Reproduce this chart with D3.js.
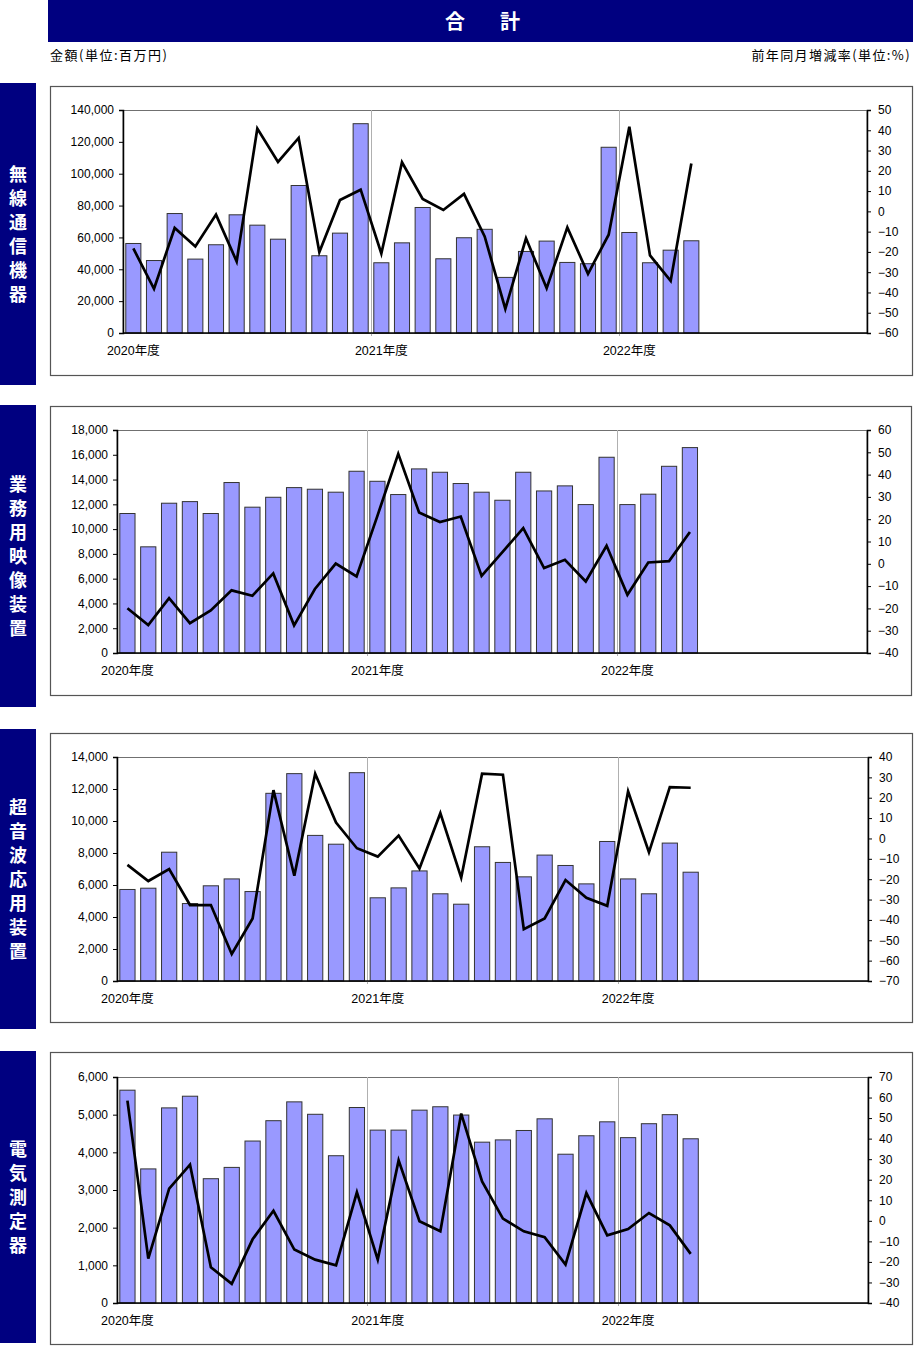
<!DOCTYPE html>
<html><head><meta charset="utf-8">
<script src="https://cdn.jsdelivr.net/npm/d3@7"></script>
<style>
body{margin:0;background:#fff;}
svg{display:block;}
text{font-family:"Liberation Sans","Noto Sans CJK JP",sans-serif;}
</style></head>
<body>
<svg id="c" width="915" height="1347"></svg>
<script>
// ---- categories (fiscal-year months, Apr 2020 – Mar 2023) ----
const categories = [];
for (const fy of [2020, 2021, 2022]) {
  for (const m of [4,5,6,7,8,9,10,11,12,1,2,3]) {
    categories.push((m >= 4 ? fy : fy + 1) + "-" + String(m).padStart(2, "0"));
  }
}
const yearLabels = ["2020年度", "2021年度", "2022年度"];

// ---- 無線通信機器 ----
const musenAmount = [56200,45500,75000,46400,55400,74200,67700,58900,92600,48500,62700,131400,
                     44100,56600,78800,46600,59800,65100,34900,51200,57700,44300,43500,116600,
                     63100,44100,52000,57900];
const musenRate   = [-18.3,-38.2,-8.2,-17.3,-1.6,-24.7,40.9,24.4,36.2,-20.1,5.6,10.7,
                     -20.8,24.2,6.1,0.7,8.6,-12.4,-48.1,-13.3,-37.9,-7.9,-30.8,-11.5,
                     41.7,-21.7,-34.3,23.6];
const musenLeftTicks  = [0,20000,40000,60000,80000,100000,120000,140000];
const musenRightTicks = [-60,-50,-40,-30,-20,-10,0,10,20,30,40,50];

// ---- 業務用映像装置 ----
const eizoAmount = [11260,8570,12090,12220,11260,13760,11770,12570,13350,13220,12980,14670,
                    13860,12790,14860,14590,13680,12980,12330,14590,13080,13490,11980,15800,
                    11980,12820,15070,16580];
const eizoRate   = [-19.9,-27.5,-15.4,-26.6,-20.9,-11.9,-14.3,-4.3,-27.6,-11.3,0.1,-5.7,
                    21.5,49.3,23.0,18.7,21.2,-5.4,5.2,16.0,-1.9,1.8,-7.9,8.1,
                    -13.9,0.6,1.2,14.3];
const eizoLeftTicks  = [0,2000,4000,6000,8000,10000,12000,14000,16000,18000];
const eizoRightTicks = [-40,-30,-20,-10,0,10,20,30,40,50,60];

// ---- 超音波応用装置 ----
const onpaAmount = [5720,5800,8050,4840,5950,6380,5590,11730,12960,9100,8550,13020,
                    5200,5820,6880,5450,4800,8390,7410,6510,7870,7220,6070,8720,
                    6380,5450,8620,6800];
const onpaRate   = [-13.0,-20.9,-15.0,-32.7,-32.7,-56.7,-39.3,23.7,-18.3,31.8,7.8,-4.8,
                    -8.9,1.4,-14.7,12.4,-19.3,31.8,31.3,-44.6,-39.3,-20.4,-29.1,-33.1,
                    23.1,-6.8,25.2,24.9];
const onpaLeftTicks  = [0,2000,4000,6000,8000,10000,12000,14000];
const onpaRightTicks = [-70,-60,-50,-40,-30,-20,-10,0,10,20,30,40];

// ---- 電気測定器 ----
const denkiAmount = [5650,3560,5180,5490,3300,3600,4300,4840,5340,5010,3910,5190,
                     4590,4590,5120,5210,4990,4270,4330,4580,4890,3950,4440,4810,
                     4390,4760,5000,4360];
const denkiRate   = [58.5,-18.4,15.7,27.3,-22.6,-30.7,-9.0,4.9,-14.0,-18.9,-21.7,13.9,
                     -18.9,29.4,-0.2,-5.1,52.2,19.2,1.1,-5.1,-8.0,-21.3,13.5,-7.1,
                     -4.0,3.8,-2.2,-16.1];
const denkiLeftTicks  = [0,1000,2000,3000,4000,5000,6000];
const denkiRightTicks = [-40,-30,-20,-10,0,10,20,30,40,50,60,70];

const panels = [
  {name:"無線通信機器", amount:musenAmount, rate:musenRate, lt:musenLeftTicks, rt:musenRightTicks,
   side:[83,385], box:[50,86,913,376], plot:[123,110,867,333]},
  {name:"業務用映像装置", amount:eizoAmount, rate:eizoRate, lt:eizoLeftTicks, rt:eizoRightTicks,
   side:[405,707], box:[50,406,912,696], plot:[117,430,867,653]},
  {name:"超音波応用装置", amount:onpaAmount, rate:onpaRate, lt:onpaLeftTicks, rt:onpaRightTicks,
   side:[729,1029], box:[50,733,913,1023], plot:[117,757,868,981]},
  {name:"電気測定器", amount:denkiAmount, rate:denkiRate, lt:denkiLeftTicks, rt:denkiRightTicks,
   side:[1051,1343], box:[50,1052,913,1345], plot:[117,1077,868,1303]},
];

const svg = d3.select("#c");
const NAVY = "#000080";

// header
svg.append("rect").attr("x",48).attr("y",0).attr("width",865).attr("height",42).attr("fill",NAVY);
const title = Array.from("合計");
const titleX = [455, 510];
title.forEach((ch,i) => {
  svg.append("text").attr("x",titleX[i]).attr("y",29).attr("text-anchor","middle")
    .attr("fill","#fff").attr("font-size",20).attr("font-weight","bold")
    .style("font-family","'Noto Sans CJK JP'").text(ch);
});
svg.append("text").attr("x",50).attr("y",60).attr("font-size",13).attr("letter-spacing",1.5)
  .style("font-family","'Noto Sans CJK JP'").text("金額(単位:百万円)");
svg.append("text").attr("x",911).attr("y",60).attr("font-size",13).attr("letter-spacing",1.4)
  .attr("text-anchor","end")
  .style("font-family","'Noto Sans CJK JP'").text("前年同月増減率(単位:%)");

const fmtR = d => d < 0 ? "\u2212" + Math.abs(d) : String(d);

panels.forEach(p => {
  // side label
  svg.append("rect").attr("x",0).attr("y",p.side[0]).attr("width",36).attr("height",p.side[1]-p.side[0]).attr("fill",NAVY);
  const chars = Array.from(p.name);
  const mid = (p.side[0]+p.side[1])/2;
  chars.forEach((ch,i) => {
    svg.append("text").attr("x",18).attr("y",mid + (i - (chars.length-1)/2)*24 + 6.5)
      .attr("text-anchor","middle").attr("fill","#fff").attr("font-size",18).attr("font-weight","bold")
      .style("font-family","'Noto Sans CJK JP'").text(ch);
  });
  // box
  const [bx0,by0,bx1,by1] = p.box;
  svg.append("rect").attr("x",bx0+0.5).attr("y",by0+0.5).attr("width",bx1-bx0-1).attr("height",by1-by0-1)
    .attr("fill","#fff").attr("stroke","#555").attr("stroke-width",1.2);

  const [x0,y0,x1,y1] = p.plot;
  const x = d3.scaleBand().domain(categories).range([x0,x1]).paddingInner(0.27).paddingOuter(0.135);
  const yL = d3.scaleLinear().domain([p.lt[0], p.lt[p.lt.length-1]]).range([y1,y0]);
  const yR = d3.scaleLinear().domain([p.rt[0], p.rt[p.rt.length-1]]).range([y1,y0]);
  const g = svg.append("g");

  // plot frame
  g.append("rect").attr("x",x0).attr("y",y0+0.5).attr("width",x1-x0).attr("height",y1-y0)
    .attr("fill","none").attr("stroke","#707070").attr("stroke-width",1);
  // year dividers
  [12,24].forEach(k => {
    const xv = Math.round(x0 + k*x.step()) + 0.5;
    g.append("line").attr("x1",xv).attr("x2",xv).attr("y1",y0).attr("y2",y1+3)
      .attr("stroke","#b0b0b0").attr("stroke-width",1);
  });
  // bars
  g.selectAll("rect.bar").data(p.amount).join("rect").attr("class","bar")
    .attr("x",(d,i)=>x(categories[i])).attr("width",x.bandwidth())
    .attr("y",d=>yL(d)).attr("height",d=>y1-yL(d))
    .attr("fill","#9999ff").attr("stroke","#333").attr("stroke-width",1);
  // line
  const line = d3.line().x((d,i)=>x(categories[i])+x.bandwidth()/2).y(d=>yR(d));
  g.append("path").datum(p.rate).attr("d",line).attr("fill","none")
    .attr("stroke","#000").attr("stroke-width",2.7).attr("stroke-linejoin","miter");

  // axes
  const ax = g.append("g").attr("transform",`translate(${x0},0)`)
    .call(d3.axisLeft(yL).tickValues(p.lt).tickSize(4).tickPadding(5).tickFormat(d3.format(",")));
  const ar = g.append("g").attr("transform",`translate(${x1},0)`)
    .call(d3.axisRight(yR).tickValues(p.rt).tickSize(4).tickPadding(7).tickFormat(fmtR));
  [ax,ar].forEach(a => {
    a.selectAll("path").attr("stroke","#000").attr("stroke-width",1.5);
    a.selectAll("line").attr("stroke","#000");
    a.selectAll("text").attr("font-size",12).attr("fill","#000")
      .style("font-family","'Liberation Sans',Arial,sans-serif");
  });
  g.append("line").attr("x1",x0).attr("x2",x1).attr("y1",y1).attr("y2",y1)
    .attr("stroke","#000").attr("stroke-width",1.6);
  // year labels
  yearLabels.forEach((lab,k) => {
    g.append("text").attr("x",x(categories[k*12])+x.bandwidth()/2).attr("y",y1+22)
      .attr("text-anchor","middle").attr("font-size",12.5).attr("fill","#000").text(lab);
  });
});
</script>
</body></html>
